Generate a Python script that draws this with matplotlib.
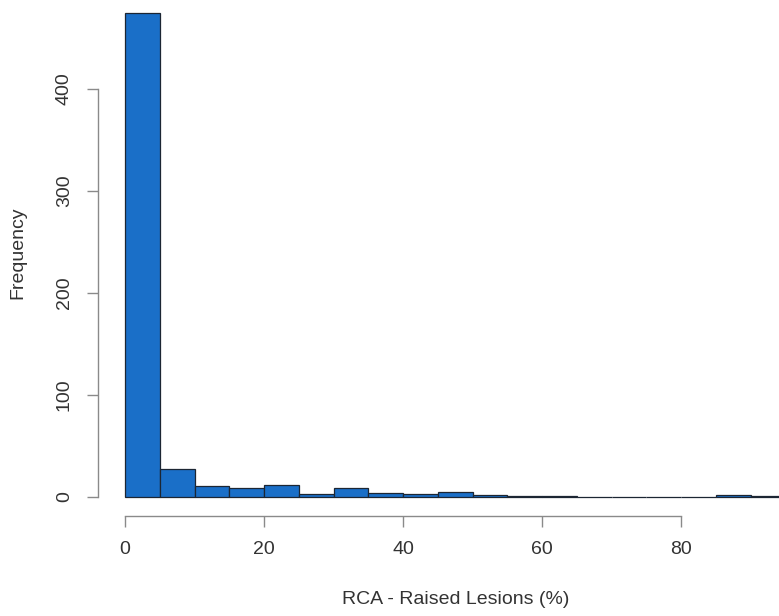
import matplotlib
matplotlib.use("Agg")
import matplotlib.pyplot as plt
import numpy as np

bin_starts = list(range(0, 95, 5))
counts = [475, 27, 11, 9, 12, 3, 9, 4, 3, 5, 2, 1, 1, 0, 0, 0, 0, 2, 1]
x_ticks = [0, 20, 40, 60, 80]
y_ticks = [0, 100, 200, 300, 400]

W, H = 779, 616
fig = plt.figure(figsize=(W/100, H/100), dpi=100)
plt.rcParams['font.family'] = ['Liberation Sans', 'DejaVu Sans']

# axes box in pixels
left_px, right_px, bottom_px, top_px = 110, 779, 505, 0
ax = fig.add_axes([left_px/W, 1-bottom_px/H, (right_px-left_px)/W, (bottom_px-top_px)/H])

edges = np.array(bin_starts, dtype=float)
ax.bar(edges, counts, width=5, align='edge', color='#1A6FC8', edgecolor='#1c2633', linewidth=0.9)

# data-to-pixel mapping from reference: x0->125px, x80->681px ; y0->497px, y400->89px
sx = (681-125)/80.0
sy = (497-89)/400.0
ax.set_xlim((left_px-125)/sx, (right_px-125)/sx)
ax.set_ylim((497-bottom_px)/sy, (497-top_px)/sy)

for s in ['top', 'right']:
    ax.spines[s].set_visible(False)
gray = '#8a8a8a'
ax.spines['left'].set_position(('outward', 12*0.72))
ax.spines['bottom'].set_position(('outward', 11*0.72))
ax.spines['left'].set_bounds(0, 400)
ax.spines['bottom'].set_bounds(0, 80)
for s in ['left', 'bottom']:
    ax.spines[s].set_color(gray)
    ax.spines[s].set_linewidth(1.0)

ax.set_xticks(x_ticks)
ax.set_yticks(y_ticks)
ax.tick_params(colors=gray, labelcolor='#333333', labelsize=14, length=8, width=1.0, pad=10)
for lab in ax.get_yticklabels():
    lab.set_rotation(90)
    lab.set_va('center')

ax.set_xlabel('RCA - Raised Lesions (%)', fontsize=14, color='#333333', labelpad=24)
ax.set_ylabel('Frequency', fontsize=14, color='#333333', labelpad=21)
ax.xaxis.label.set_x((456 - left_px) / (right_px - left_px))

fig.savefig('out.png', dpi=100)
